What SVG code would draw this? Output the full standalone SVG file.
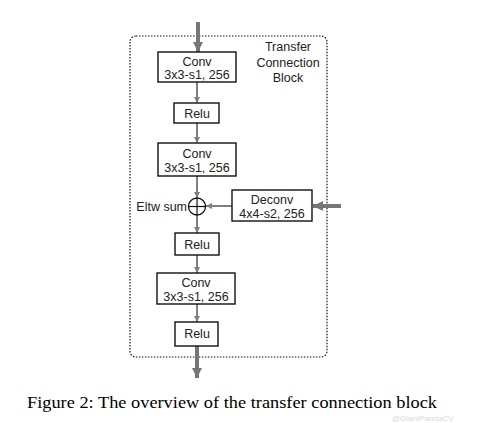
<svg xmlns="http://www.w3.org/2000/svg" width="478" height="423" viewBox="0 0 478 423">
<defs>
<marker id="ah" viewBox="0 0 10 10" refX="10" refY="5" markerWidth="6" markerHeight="6" markerUnits="userSpaceOnUse" orient="auto"><path d="M0,0 L10,5 L0,10 z" fill="#7f7f7f"/></marker>
<marker id="ahb" viewBox="0 0 10 10" refX="10" refY="5" markerWidth="10" markerHeight="10" markerUnits="userSpaceOnUse" orient="auto"><path d="M0,0 L10,5 L0,10 z" fill="#777777"/></marker>
</defs>
<style>
.box{fill:#fff;stroke:#111;stroke-width:1.4}
.t{font-family:"Liberation Sans",Arial,sans-serif;font-size:12.5px;fill:#222;text-anchor:middle}
.thin{stroke:#7f7f7f;stroke-width:2;fill:none;marker-end:url(#ah)}
.thick{stroke:#777777;stroke-width:4;fill:none;marker-end:url(#ahb)}
</style>
<rect width="478" height="423" fill="#fff"/>
<rect id="block" x="130" y="36" width="197" height="321" rx="6" ry="6" fill="none" stroke="#111" stroke-width="1.2" stroke-dasharray="1.5,1.5"/>
<text class="t" x="288" y="51">Transfer</text>
<text class="t" x="288" y="67">Connection</text>
<text class="t" x="288" y="82">Block</text>
<g id="connectors">
<line class="thick" x1="198" y1="22" x2="198" y2="52"/>
<line class="thin" x1="197" y1="82" x2="197" y2="103"/>
<line class="thin" x1="197" y1="123" x2="197" y2="143"/>
<line class="thin" x1="197" y1="176" x2="197" y2="198"/>
<line class="thin" x1="232" y1="206" x2="206" y2="206"/>
<line class="thick" x1="341" y1="206" x2="313" y2="206"/>
<line class="thin" x1="197" y1="215" x2="197" y2="233"/>
<line class="thin" x1="197" y1="255" x2="197" y2="273"/>
<line class="thin" x1="197" y1="304" x2="197" y2="322"/>
<line class="thick" x1="197" y1="346" x2="197" y2="378"/>
</g>
<g id="conv1"><rect class="box" x="158" y="52" width="78" height="30"/><text class="t" x="197" y="66">Conv</text><text class="t" x="197" y="79">3x3-s1, 256</text></g>
<g id="relu1"><rect class="box" x="174" y="103" width="45" height="20"/><text class="t" x="197" y="118">Relu</text></g>
<g id="conv2"><rect class="box" x="158" y="143" width="78" height="33"/><text class="t" x="197" y="158">Conv</text><text class="t" x="197" y="172">3x3-s1, 256</text></g>
<g id="sum"><circle cx="197" cy="206.5" r="8.5" fill="#fff" stroke="#111" stroke-width="1.3"/><line x1="188.5" y1="206.5" x2="205.5" y2="206.5" stroke="#111" stroke-width="1.2"/><line x1="197" y1="198" x2="197" y2="215" stroke="#111" stroke-width="1.2"/><text class="t" x="187" y="211" style="text-anchor:end">Eltw sum</text></g>
<g id="deconv"><rect class="box" x="232" y="190" width="80" height="31"/><text class="t" x="272" y="204">Deconv</text><text class="t" x="272" y="218">4x4-s2, 256</text></g>
<g id="relu2"><rect class="box" x="175" y="233" width="44" height="22"/><text class="t" x="197" y="249">Relu</text></g>
<g id="conv3"><rect class="box" x="157" y="273" width="78" height="31"/><text class="t" x="196" y="287">Conv</text><text class="t" x="196" y="301">3x3-s1, 256</text></g>
<g id="relu3"><rect class="box" x="175" y="322" width="43" height="24"/><text class="t" x="197" y="338">Relu</text></g>
<text x="27" y="408" font-family="'Liberation Serif','Times New Roman',serif" font-size="16.5" fill="#000" textLength="410" lengthAdjust="spacingAndGlyphs">Figure 2: The overview of the transfer connection block</text>
<text x="392" y="421" font-family="'Liberation Sans',Arial,sans-serif" font-size="8" fill="#d8d8d8">@GiantPandaCV</text>
</svg>
